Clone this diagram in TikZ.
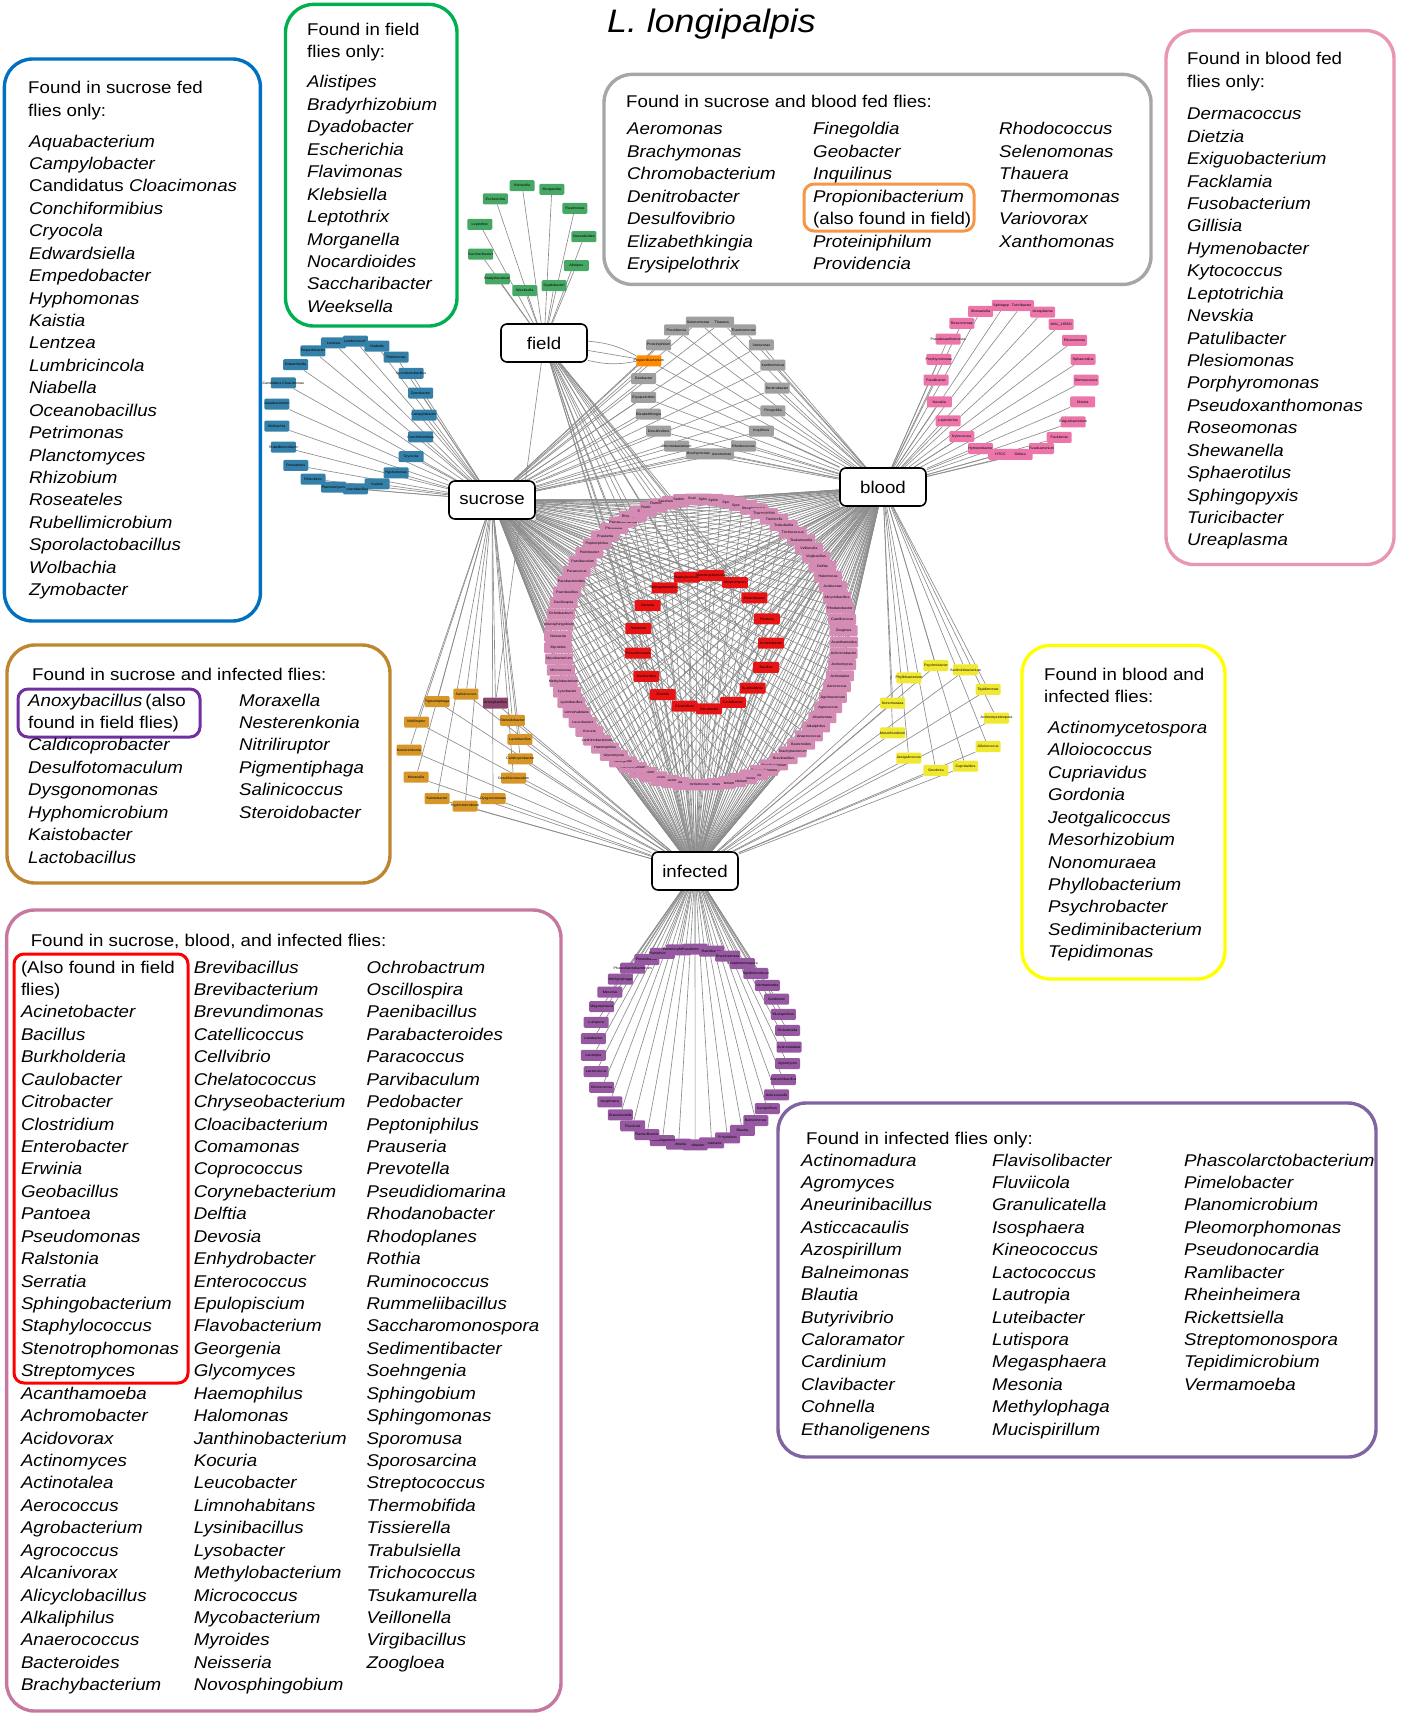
\documentclass[tikz,border=0pt]{standalone}
\usepackage{fontspec}
\setmainfont{Liberation Sans}[FakeStretch=1.1]
\usetikzlibrary{calc,backgrounds}

\definecolor{boxBlue}{RGB}{0,112,192}
\definecolor{boxGreen}{RGB}{0,176,80}
\definecolor{boxGrey}{RGB}{166,166,166}
\definecolor{boxOrange}{RGB}{247,150,70}
\definecolor{boxPink}{RGB}{232,150,180}
\definecolor{boxBrown}{RGB}{191,134,48}
\definecolor{boxViolet}{RGB}{112,48,160}
\definecolor{boxYellow}{RGB}{255,255,0}
\definecolor{boxMauve}{RGB}{198,120,160}
\definecolor{boxRed}{RGB}{255,0,0}
\definecolor{boxPurple}{RGB}{128,100,162}
\definecolor{nodeGreen}{RGB}{70,168,100}
\definecolor{nodeBlue}{RGB}{52,128,168}
\definecolor{nodeGrey}{RGB}{160,160,160}
\definecolor{nodeOrange}{RGB}{255,140,0}
\definecolor{nodePink}{RGB}{236,118,170}
\definecolor{ringPink}{RGB}{212,140,180}
\definecolor{nodeRed}{RGB}{230,20,20}
\definecolor{nodeBrown}{RGB}{214,150,40}
\definecolor{nodeYellow}{RGB}{240,232,50}
\definecolor{nodePurple}{RGB}{150,88,160}
\definecolor{nodeAnoxy}{RGB}{140,70,110}

\tikzset{
  box/.style={rounded corners=28, line width=3.4},
  tagbox/.style={rounded corners=10, line width=3},
  hub/.style={draw, rounded corners=6, line width=1.6, fill=white, minimum width=86, minimum height=38, inner sep=0, font=\fontsize{17}{17}\selectfont},
  netnode/.style={rectangle, rounded corners=1.2, inner sep=0, minimum width=25, minimum height=11, font=\fontsize{3.4}{4}\selectfont},
  edge/.style={draw=black!45, line width=0.65},
  head/.style={anchor=base west, inner sep=0, font=\fontsize{17}{20}\selectfont},
  genus/.style={head, font=\fontsize{17}{20}\selectfont\itshape},
}
\newcommand{\lab}[1]{\makebox[0pt]{#1}}

\begin{document}
\begin{tikzpicture}[x=1pt, y=-1pt]
    \useasboundingbox (0,0) rectangle (1400,1718);

    \node[anchor=base west, inner sep=0, font=\fontsize{32.5}{36}\selectfont\itshape] (title) at (607,33) {L. longipalpis};

    \draw[box, boxBlue] (4.4,59) rectangle (260.4,621);
    \node[head] (sucH1) at (28,93.5) {Found in sucrose fed};
    \node[head] (sucH2) at (28,116.5) {flies only:};
    \foreach \n [count=\i] in {Aquabacterium, Campylobacter, {{\upshape Candidatus} Cloacimonas}, Conchiformibius, Cryocola, Edwardsiella, Empedobacter, Hyphomonas, Kaistia, Lentzea, Lumbricincola, Niabella, Oceanobacillus, Petrimonas, Planctomyces, Rhizobium, Roseateles, Rubellimicrobium, Sporolactobacillus, Wolbachia, Zymobacter}
        \node[genus] (sucT\i) at (29,147+22.43*\i-22.43) {\n};

    \draw[box, boxGreen] (285.5,4.4) rectangle (457,326);
    \node[head] (fldH1) at (307,35.5) {Found in field};
    \node[head] (fldH2) at (307,57.4) {flies only:};
    \foreach \n [count=\i] in {Alistipes, Bradyrhizobium, Dyadobacter, Escherichia, Flavimonas, Klebsiella, Leptothrix, Morganella, Nocardioides, Saccharibacter, Weeksella}
        \node[genus] (fldT\i) at (307,88+22.43*\i-22.43) {\n};

    \draw[box, boxGrey] (604,74.4) rectangle (1151,284.4);
    \draw[tagbox, boxOrange] (804,184) rectangle (974,231);
    \node[head] (sbH) at (626,107.7) {Found in sucrose and blood fed flies:};
    \foreach \n [count=\i] in {Aeromonas, Brachymonas, Chromobacterium, Denitrobacter, Desulfovibrio, Elizabethkingia, Erysipelothrix}
        \node[genus] (sbA\i) at (627,135+22.43*\i-22.43) {\n};
    \foreach \n [count=\i] in {Finegoldia, Geobacter, Inquilinus, Propionibacterium, {\upshape (also found in field)}, Proteiniphilum, Providencia}
        \node[genus] (sbB\i) at (813,135+22.43*\i-22.43) {\n};
    \foreach \n [count=\i] in {Rhodococcus, Selenomonas, Thauera, Thermomonas, Variovorax, Xanthomonas}
        \node[genus] (sbC\i) at (999,135+22.43*\i-22.43) {\n};

    \draw[box, boxPink] (1166,30.6) rectangle (1394,564.5);
    \node[head] (bldH1) at (1187,65) {Found in blood fed};
    \node[head] (bldH2) at (1187,88) {flies only:};
    \foreach \n [count=\i] in {Dermacoccus, Dietzia, Exiguobacterium, Facklamia, Fusobacterium, Gillisia, Hymenobacter, Kytococcus, Leptotrichia, Nevskia, Patulibacter, Plesiomonas, Porphyromonas, Pseudoxanthomonas, Roseomonas, Shewanella, Sphaerotilus, Sphingopyxis, Turicibacter, Ureaplasma}
        \node[genus] (bldT\i) at (1187,119.8+22.43*\i-22.43) {\n};

    \draw[box, boxBrown] (7,645) rectangle (390,883);
    \draw[tagbox, boxViolet] (18,689) rectangle (200,737);
    \node[head] (siH) at (32,680) {Found in sucrose and infected flies:};
    \foreach \n [count=\i] in {{Anoxybacillus\,{\upshape(also}}, {\upshape found in field flies)}, Caldicoprobacter, Desulfotomaculum, Dysgonomonas, Hyphomicrobium, Kaistobacter, Lactobacillus}
        \node[genus] (siA\i) at (28,706+22.43*\i-22.43) {\n};
    \foreach \n [count=\i] in {Moraxella, Nesterenkonia, Nitriliruptor, Pigmentiphaga, Salinicoccus, Steroidobacter}
        \node[genus] (siB\i) at (239,706+22.43*\i-22.43) {\n};

    \draw[box, boxYellow] (1022,645.5) rectangle (1225,979);
    \node[head] (biH1) at (1044,680) {Found in blood and};
    \node[head] (biH2) at (1044,702) {infected flies:};
    \foreach \n [count=\i] in {Actinomycetospora, Alloiococcus, Cupriavidus, Gordonia, Jeotgalicoccus, Mesorhizobium, Nonomuraea, Phyllobacterium, Psychrobacter, Sediminibacterium, Tepidimonas}
        \node[genus] (biT\i) at (1048,733.5+22.43*\i-22.43) {\n};

    \draw[box, boxMauve] (6.6,910) rectangle (561,1711);
    \draw[tagbox, boxRed] (14,954) rectangle (188,1383);
    \node[head] (sbiH) at (30.6,946) {Found in sucrose, blood, and infected flies:};
    \foreach \n [count=\i] in {{\upshape (Also found in field}, {\upshape flies)}, Acinetobacter, Bacillus, Burkholderia, Caulobacter, Citrobacter, Clostridium, Enterobacter, Erwinia, Geobacillus, Pantoea, Pseudomonas, Ralstonia, Serratia, Sphingobacterium, Staphylococcus, Stenotrophomonas, Streptomyces, Acanthamoeba, Achromobacter, Acidovorax, Actinomyces, Actinotalea, Aerococcus, Agrobacterium, Agrococcus, Alcanivorax, Alicyclobacillus, Alkaliphilus, Anaerococcus, Bacteroides, Brachybacterium}
        \node[genus] (sbiA\i) at (20.8,973+22.43*\i-22.43) {\n};
    \foreach \n [count=\i] in {Brevibacillus, Brevibacterium, Brevundimonas, Catellicoccus, Cellvibrio, Chelatococcus, Chryseobacterium, Cloacibacterium, Comamonas, Coprococcus, Corynebacterium, Delftia, Devosia, Enhydrobacter, Enterococcus, Epulopiscium, Flavobacterium, Georgenia, Glycomyces, Haemophilus, Halomonas, Janthinobacterium, Kocuria, Leucobacter, Limnohabitans, Lysinibacillus, Lysobacter, Methylobacterium, Micrococcus, Mycobacterium, Myroides, Neisseria, Novosphingobium}
        \node[genus] (sbiB\i) at (193.6,973+22.43*\i-22.43) {\n};
    \foreach \n [count=\i] in {Ochrobactrum, Oscillospira, Paenibacillus, Parabacteroides, Paracoccus, Parvibaculum, Pedobacter, Peptoniphilus, Prauseria, Prevotella, Pseudidiomarina, Rhodanobacter, Rhodoplanes, Rothia, Ruminococcus, Rummeliibacillus, Saccharomonospora, Sedimentibacter, Soehngenia, Sphingobium, Sphingomonas, Sporomusa, Sporosarcina, Streptococcus, Thermobifida, Tissierella, Trabulsiella, Trichococcus, Tsukamurella, Veillonella, Virgibacillus, Zoogloea}
        \node[genus] (sbiC\i) at (366.5,973+22.43*\i-22.43) {\n};

    \draw[box, boxPurple] (778,1103) rectangle (1376,1457);
    \node[head] (infH) at (806,1144) {Found in infected flies only:};
    \foreach \n [count=\i] in {Actinomadura, Agromyces, Aneurinibacillus, Asticcacaulis, Azospirillum, Balneimonas, Blautia, Butyrivibrio, Caloramator, Cardinium, Clavibacter, Cohnella, Ethanoligenens}
        \node[genus] (infA\i) at (801,1166+22.43*\i-22.43) {\n};
    \foreach \n [count=\i] in {Flavisolibacter, Fluviicola, Granulicatella, Isosphaera, Kineococcus, Lactococcus, Lautropia, Luteibacter, Lutispora, Megasphaera, Mesonia, Methylophaga, Mucispirillum}
        \node[genus] (infB\i) at (992,1166+22.43*\i-22.43) {\n};
    \foreach \n [count=\i] in {Phascolarctobacterium, Pimelobacter, Planomicrobium, Pleomorphomonas, Pseudonocardia, Ramlibacter, Rheinheimera, Rickettsiella, Streptomonospora, Tepidimicrobium, Vermamoeba}
        \node[genus] (infC\i) at (1184,1166+22.43*\i-22.43) {\n};

    \node[hub] (field) at (544,343) {field};
    \node[hub] (sucrose) at (492,500) {sucrose};
    \node[hub] (blood) at (883,487) {blood};
    \node[hub] (infected) at (695,871) {infected};

    \coordinate (cFld) at (531,238);
    \coordinate (cSuc) at (350,415);
    \coordinate (cSb) at (710,388);
    \coordinate (cBld) at (1011,380);
    \coordinate (cSi) at (465,750);
    \coordinate (cBi) at (943.5,718);
    \coordinate (cRing) at (701,642);
    \coordinate (cRed) at (704,642);
    \coordinate (cInf) at (691,1047);

    \foreach \n [count=\i, evaluate=\i as \a using -99.6+32.73*(\i-1)] in {Klebsiella, Morganella, Flavimonas, Nocardioides, Alistipes, Dyadobacter, Weeksella, Bradyrhizobium, Saccharibacter, Leptothrix, Escherichia}
        \node[netnode, fill=nodeGreen] (fld\i) at ($(cFld)+(\a:53)$) {\lab{\n}};
    \foreach \n [count=\i, evaluate=\i as \a using 17.14*(\i-1)] in {Campylobacter, Conchiformibius, Cryocola, Hyphomonas, Kaistia, Oceanobacillus, Planctomyces, Rhizobium, Roseateles, Rubellimicrobium, Wolbachia, Aquabacterium, Candidatus Cloacimonas, Edwardsiella, Empedobacter, Lentzea, Lumbricincola, Niabella, Petrimonas, Sporolactobacillus, Zymobacter}
        \node[netnode, fill=nodeBlue] (suc\i) at ($(cSuc)+(\a:74)$) {\lab{\n}};
    \foreach \a/\n [count=\i] in {0/Denitrobacter, 20/Finegoldia, 40/Inquilinus, 60/Rhodococcus, 80/Aeromonas, 100/Brachymonas, 120/Chromobacterium, 140/Desulfovibrio, 157/Elizabethkingia, 172/Erysipelothrix, 188/Geobacter, 220/Proteiniphilum, 240/Providencia, 260/Selenomonas, 280/Thauera, 300/Thermomonas, 320/Variovorax, 340/Xanthomonas}
        \node[netnode, fill=nodeGrey] (sb\i) at ($(cSb)+(\a:67)$) {\lab{\n}};
    \node[netnode, fill=nodeOrange] (prop) at ($(cSb)+(204:67)$) {\lab{Propionibacterium}};
    \foreach \a/\n [count=\i] in {0/Dermacoccus, 17/Dietzia, 34/Exiguobacterium, 50/Facklamia, 66/Fusobacterium, 83/Gillisia, 98/HTCC, 114/Hymenobacter, 131/Kytococcus, 147/Leptotrichia, 163/Nevskia, 180/Patulibacter, 196/Porphyromonas, 213/Pseudoxanthomonas, 229/Roseomonas, 246/Shewanella, 265/Sphingopyxis, 278/Turicibacter, 295/Ureaplasma, 312/WAL\_1855D, 328/Plesiomonas, 344/Sphaerotilus}
        \node[netnode, fill=nodePink] (bld\i) at ($(cBld)+(\a:75)$) {\lab{\n}};
    \foreach \a/\n [count=\i] in {9/Caldicoprobacter, 30/Desulfotomaculum, 60/Dysgonomonas, 90/Hyphomicrobium, 120/Kaistobacter, 151/Moraxella, 180/Nesterenkonia, 210/Nitriliruptor, 240/Pigmentiphaga, 271/Salinicoccus, 328/Steroidobacter, 349/Lactobacillus}
        \node[netnode, fill=nodeBrown] (si\i) at ($(cSi)+(\a:56)$) {\lab{\n}};
    \node[netnode, fill=nodeAnoxy] (anoxy) at ($(cSi)+(303:56)$) {\lab{Anoxybacillus}};
    \foreach \n [count=\i, evaluate=\i as \a using 32.73*(\i-1)] in {Actinomycetospora, Alloiococcus, Cupriavidus, Gordonia, Jeotgalicoccus, Mesorhizobium, Nonomuraea, Phyllobacterium, Psychrobacter, Sediminibacterium, Tepidimonas}
        \node[netnode, fill=nodeYellow] (bi\i) at ($(cBi)+(\a:53)$) {\lab{\n}};
    \foreach \n [count=\i, evaluate=\i as \a using 4.557*(\i-1)] in {Acanthamoeba, Achromobacter, Actinomyces, Actinotalea, Aerococcus, Agrobacterium, Agrococcus, Alcanivorax, Alkaliphilus, Anaerococcus, Bacteroides, Brachybacterium, Brevibacillus, Brevibacterium, Brevundimonas, Cellvibrio, Chelatococcus, Chryseobacterium, Cloacibacterium, Comamonas, Coprococcus, Corynebacterium, Devosia, Enhydrobacter, Enterococcus, Epulopiscium, Flavobacterium, Georgenia, Glycomyces, Haemophilus, Janthinobacterium, Kocuria, Leucobacter, Limnohabitans, Lysinibacillus, Lysobacter, Methylobacterium, Micrococcus, Mycobacterium, Myroides, Neisseria, Novosphingobium, Ochrobactrum, Oscillospira, Paenibacillus, Parabacteroides, Paracoccus, Parvibaculum, Pedobacter, Peptoniphilus, Prauseria, Prevotella, Pseudidiomarina, Rhodoplanes, Rothia, Ruminococcus, Rummeliibacillus, Saccharomonospora, Sedimentibacter, Soehngenia, Sphingobium, Sphingomonas, Sporomusa, Sporosarcina, Streptococcus, Thermobifida, Tissierella, Trabulsiella, Trichococcus, Tsukamurella, Veillonella, Virgibacillus, Delftia, Halomonas, Acidovorax, Alicyclobacillus, Rhodanobacter, Catellicoccus, Zoogloea}
        \node[netnode, fill=ringPink, minimum width=28] (ring\i) at ($(cRing)+(\a:143)$) {\lab{\n}};
    \foreach \n [count=\i, evaluate=\i as \a using 1+21.18*(\i-1)] in {Acinetobacter, Bacillus, Burkholderia, Caulobacter, Citrobacter, Clostridium, Erwinia, Geobacillus, Pseudomonas, Ralstonia, Serratia, Sphingobacterium, Staphylococcus, Stenotrophomonas, Streptomyces, Enterobacter, Pantoea}
        \node[netnode, fill=nodeRed, minimum width=26] (red\i) at ($(cRed)+(\a:67)$) {\lab{\n}};
    \foreach \n [count=\i, evaluate=\i as \a using 9.73*(\i-1)] in {Actinomadura, Agromyces, Aneurinibacillus, Asticcacaulis, Azospirillum, Balneimonas, Blautia, Butyrivibrio, Caloramator, Clavibacter, Cohnella, Ethanoligenens, Flavisolibacter, Fluviicola, Granulicatella, Isosphaera, Kineococcus, Lactococcus, Lautropia, Luteibacter, Lutispora, Megasphaera, Mesonia, Methylophaga, Phascolarctobacterium, Pimelobacter, Planomicrobium, Pleomorphomonas, Pseudonocardia, Ramlibacter, Rheinheimera, Streptomonospora, Tepidimicrobium, Vermamoeba, Cardinium, Mucispirillum, Rickettsiella}
        \node[netnode, fill=nodePurple] (inf\i) at ($(cInf)+(\a:98)$) {\lab{\n}};

    \begin{scope}[on background layer]
        \foreach \i in {1,...,11} \draw[edge] (fld\i) -- (field);
        \foreach \i in {1,...,21} \draw[edge] (suc\i) -- (sucrose);
        \foreach \i in {1,...,18} \foreach \h in {sucrose,blood} \draw[edge] (sb\i) -- (\h);
        \foreach \h in {sucrose,blood} \draw[edge] (prop) -- (\h);
        \draw[edge] (field) to[bend left=12] (prop);
        \draw[edge] (field) -- (prop);
        \draw[edge] (field) to[bend right=12] (prop);
        \foreach \i in {1,...,22} \draw[edge] (bld\i) -- (blood);
        \foreach \i in {1,...,12} \foreach \h in {sucrose,infected} \draw[edge] (si\i) -- (\h);
        \foreach \h in {sucrose,infected,field} \draw[edge] (anoxy) -- (\h);
        \foreach \i in {1,...,11} \foreach \h in {blood,infected} \draw[edge] (bi\i) -- (\h);
        \foreach \i in {1,...,79} \foreach \h in {sucrose,blood,infected} \draw[edge] (ring\i) -- (\h);
        \foreach \i in {1,...,17} \foreach \h in {sucrose,blood,infected,field} \draw[edge] (red\i) -- (\h);
        \foreach \i in {1,...,37} \draw[edge] (inf\i) -- (infected);
    \end{scope}
\end{tikzpicture}
\end{document}
